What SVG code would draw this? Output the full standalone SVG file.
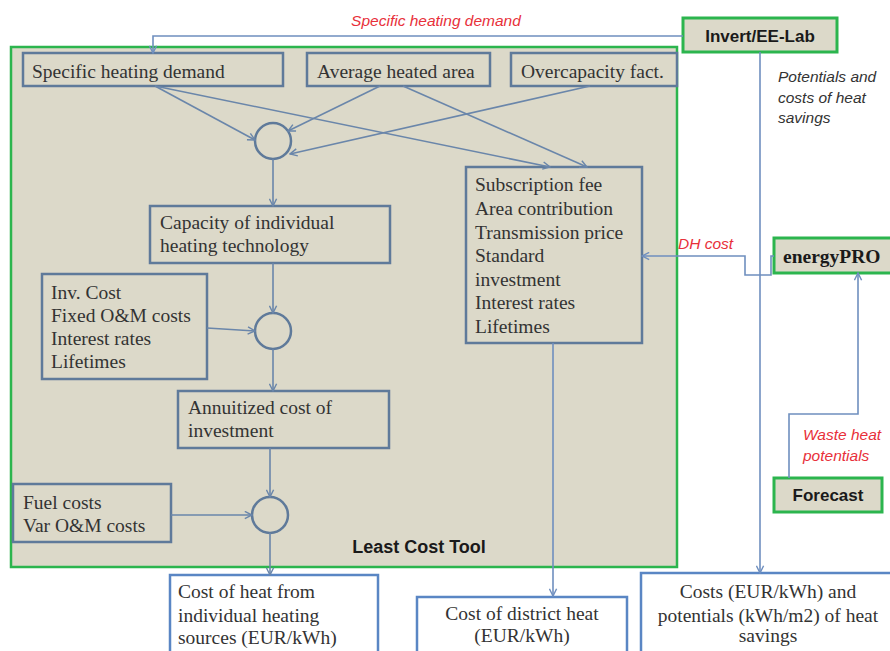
<svg xmlns="http://www.w3.org/2000/svg" width="890" height="651" viewBox="0 0 890 651">
<defs>
<marker id="arr" viewBox="0 0 10 10" refX="9" refY="5" markerWidth="9" markerHeight="9" markerUnits="userSpaceOnUse" orient="auto">
<path d="M1,1 L9,5 L1,9" fill="none" stroke="#6f8fbf" stroke-width="1.6"/>
</marker>
<marker id="arr2" viewBox="0 0 10 10" refX="9" refY="5" markerWidth="9" markerHeight="9" markerUnits="userSpaceOnUse" orient="auto">
<path d="M1,1 L9,5 L1,9" fill="none" stroke="#6a86aa" stroke-width="1.6"/>
</marker>
</defs>
<style>
.tool{fill:#dcd9c9;stroke:#2cb54e;stroke-width:2.5}
.ext{fill:#dcd9c9;stroke:#2cb54e;stroke-width:3}
.box{fill:#dcd9c9;stroke:#5f7a9a;stroke-width:2.5}
.out{fill:#ffffff;stroke:#5a86c4;stroke-width:2.5}
.circ{fill:none;stroke:#5f7a9a;stroke-width:2.5}
.ser{font-family:"Liberation Serif","Times New Roman",serif;font-size:19.5px;fill:#333333}
.bs{font-family:"Liberation Sans",Arial,sans-serif;font-weight:bold;fill:#1a1a1a}
.lab{font-family:"Liberation Sans",Arial,sans-serif;font-style:italic;font-size:15.5px}
.red{fill:#e8303a}
.dk{fill:#333333}
.c{fill:none;stroke:#6f8fbf;stroke-width:1.6}
.ci{fill:none;stroke:#6a86aa;stroke-width:1.6}
</style>
<rect width="890" height="651" fill="#ffffff"/>

<g id="least-cost-tool">
<rect class="tool" x="11" y="47" width="666" height="520"/>
<text class="bs" x="419" y="553" font-size="18" text-anchor="middle">Least Cost Tool</text>
</g>

<g id="specific-heating-demand">
<rect class="box" x="23" y="53" width="260" height="33"/>
<text class="ser" x="32" y="78">Specific heating demand</text>
</g>
<g id="average-heated-area">
<rect class="box" x="307" y="53" width="183" height="33"/>
<text class="ser" x="317" y="78">Average heated area</text>
</g>
<g id="overcapacity">
<rect class="box" x="511" y="53" width="166" height="33"/>
<text class="ser" x="521" y="78">Overcapacity fact.</text>
</g>

<g id="circle1"><circle class="circ" cx="273" cy="141" r="18"/></g>
<g id="circle2"><circle class="circ" cx="273" cy="331" r="18"/></g>
<g id="circle3"><circle class="circ" cx="270" cy="515" r="18"/></g>

<g id="capacity">
<rect class="box" x="150" y="206" width="240" height="57"/>
<text class="ser" x="160" y="229">Capacity of individual</text>
<text class="ser" x="160" y="252">heating technology</text>
</g>
<g id="inv-cost">
<rect class="box" x="42" y="274" width="165" height="105"/>
<text class="ser" x="51" y="299">Inv. Cost</text>
<text class="ser" x="51" y="322">Fixed O&amp;M costs</text>
<text class="ser" x="51" y="345">Interest rates</text>
<text class="ser" x="51" y="368">Lifetimes</text>
</g>
<g id="annuitized">
<rect class="box" x="178" y="391" width="211" height="57"/>
<text class="ser" x="188" y="414">Annuitized cost of</text>
<text class="ser" x="188" y="437">investment</text>
</g>
<g id="fuel-costs">
<rect class="box" x="13" y="484" width="158" height="58"/>
<text class="ser" x="23" y="509">Fuel costs</text>
<text class="ser" x="23" y="532">Var O&amp;M costs</text>
</g>
<g id="subscription">
<rect class="box" x="466" y="167" width="176" height="176"/>
<text class="ser" x="475" y="191">Subscription fee</text>
<text class="ser" x="475" y="215">Area contribution</text>
<text class="ser" x="475" y="239">Transmission price</text>
<text class="ser" x="475" y="262">Standard</text>
<text class="ser" x="475" y="286">investment</text>
<text class="ser" x="475" y="309">Interest rates</text>
<text class="ser" x="475" y="333">Lifetimes</text>
</g>

<g id="invert-ee-lab">
<rect class="ext" x="683" y="18" width="154" height="34"/>
<text class="bs" x="760" y="42" font-size="17" text-anchor="middle">Invert/EE-Lab</text>
</g>
<g id="energypro">
<rect class="ext" x="774" y="238" width="130" height="35"/>
<text x="783" y="263" font-family="'Liberation Serif','Times New Roman',serif" font-weight="bold" font-size="19.5" fill="#1a1a1a">energyPRO</text>
</g>
<g id="forecast">
<rect class="ext" x="774" y="478" width="108" height="34"/>
<text class="bs" x="828" y="501" font-size="17" text-anchor="middle">Forecast</text>
</g>

<g id="cost-heat-individual">
<rect class="out" x="170" y="575" width="208" height="90"/>
<text class="ser" x="178" y="598">Cost of heat from</text>
<text class="ser" x="178" y="622">individual heating</text>
<text class="ser" x="178" y="644">sources (EUR/kWh)</text>
</g>
<g id="cost-district-heat">
<rect class="out" x="417" y="597" width="210" height="70"/>
<text class="ser" x="522" y="620" text-anchor="middle">Cost of district heat</text>
<text class="ser" x="522" y="642" text-anchor="middle">(EUR/kWh)</text>
</g>
<g id="costs-savings">
<rect class="out" x="641" y="573" width="260" height="90"/>
<text class="ser" x="768" y="598" text-anchor="middle">Costs (EUR/kWh) and</text>
<text class="ser" x="768" y="622" text-anchor="middle">potentials (kWh/m2) of heat</text>
<text class="ser" x="768" y="642" text-anchor="middle">savings</text>
</g>

<g id="connectors">
<path class="c" d="M683,36 H153 V53" marker-end="url(#arr)"/>
<path class="c" d="M760,52 V573" marker-end="url(#arr)"/>
<path class="c" d="M774,256 H771 V275 H745 V256 H642" marker-end="url(#arr)"/>
<path class="c" d="M789,478 V414 H858 V273" marker-end="url(#arr)"/>
<path class="c" d="M553,343 V596" marker-end="url(#arr)"/>
<path class="ci" d="M155,86 L255,140" marker-end="url(#arr2)"/>
<path class="ci" d="M155,86 L550,167" marker-end="url(#arr2)"/>
<path class="ci" d="M380,86 L288,131" marker-end="url(#arr2)"/>
<path class="ci" d="M403,86 L587,167" marker-end="url(#arr2)"/>
<path class="ci" d="M590,86 L290,154" marker-end="url(#arr2)"/>
<path class="ci" d="M273,159 V206" marker-end="url(#arr2)"/>
<path class="ci" d="M273,263 V313" marker-end="url(#arr2)"/>
<path class="ci" d="M207,328 L255,331" marker-end="url(#arr2)"/>
<path class="ci" d="M273,349 V391" marker-end="url(#arr2)"/>
<path class="ci" d="M270,448 V497" marker-end="url(#arr2)"/>
<path class="ci" d="M171,515 H252" marker-end="url(#arr2)"/>
<path class="ci" d="M270,533 V575" marker-end="url(#arr2)"/>
</g>

<g id="labels">
<text class="lab red" x="436" y="26" text-anchor="middle">Specific heating demand</text>
<text class="lab dk" x="778" y="82">Potentials and</text>
<text class="lab dk" x="778" y="103">costs of heat</text>
<text class="lab dk" x="778" y="123">savings</text>
<text class="lab red" x="678" y="249">DH cost</text>
<text class="lab red" x="803" y="440">Waste heat</text>
<text class="lab red" x="803" y="461">potentials</text>
</g>
</svg>
